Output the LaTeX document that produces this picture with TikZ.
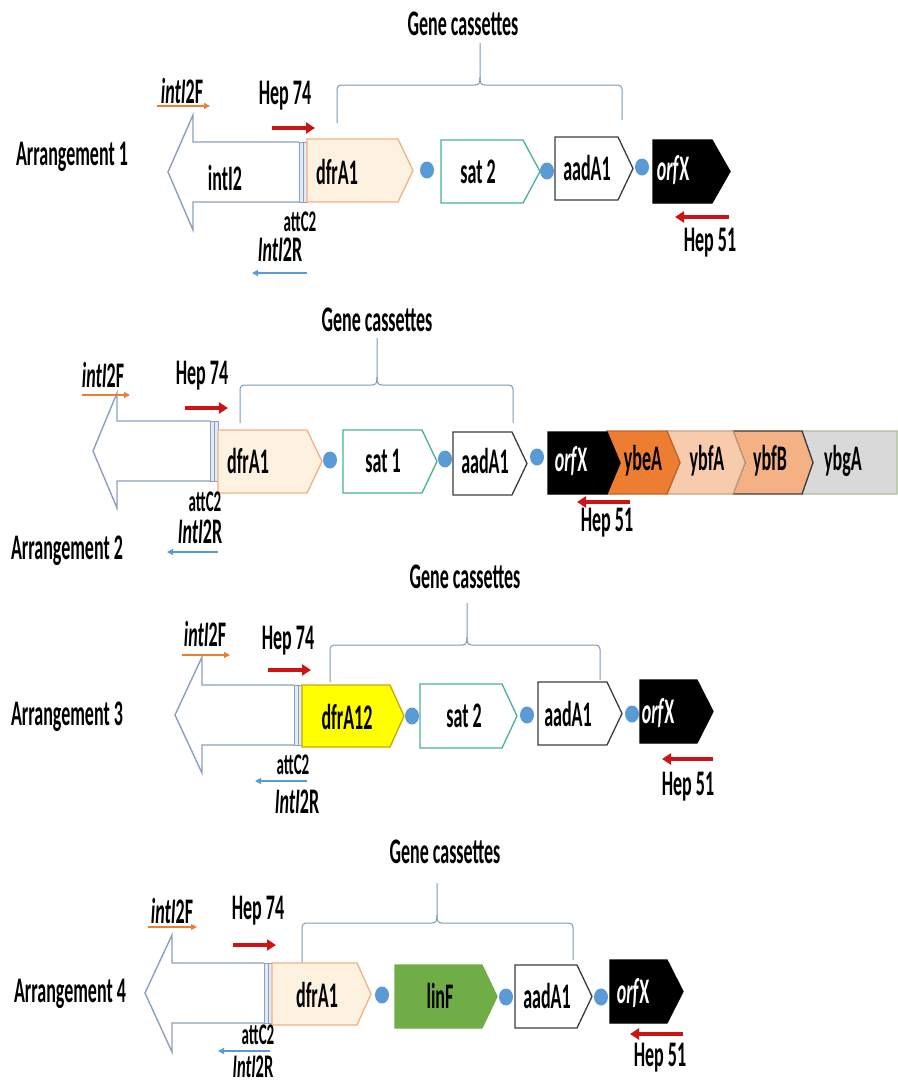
\documentclass[tikz,border=0pt]{standalone}
\usepackage{fontspec}
\setmainfont{Carlito}[FakeStretch=0.5]
\usetikzlibrary{arrows.meta,shapes.geometric}
\definecolor{dotblue}{RGB}{91,155,213}
\definecolor{hepred}{RGB}{205,20,20}
\definecolor{prorange}{RGB}{237,125,49}
\definecolor{prblue}{RGB}{91,155,213}
\definecolor{bracecol}{RGB}{120,155,185}
\definecolor{intcol}{RGB}{140,160,190}
\definecolor{attfill}{RGB}{225,235,248}
\definecolor{dfrfill}{RGB}{253,241,224}
\definecolor{dfrdraw}{RGB}{244,177,131}
\definecolor{satdraw}{RGB}{70,180,145}
\definecolor{aaddraw}{RGB}{60,60,60}
\definecolor{yelfill}{RGB}{255,255,0}
\definecolor{yeldraw}{RGB}{200,170,0}
\definecolor{linfill}{RGB}{112,173,71}
\definecolor{ybeafill}{RGB}{237,125,49}
\definecolor{ybfafill}{RGB}{248,203,173}
\definecolor{ybfbfill}{RGB}{244,177,131}
\definecolor{ybgafill}{RGB}{217,217,217}
\definecolor{ybgadraw}{RGB}{170,190,150}
\tikzset{
  lbl/.style={font=\fontsize{36}{42}\selectfont\bfseries, inner sep=0pt},
  smalllbl/.style={font=\fontsize{30}{35}\selectfont\bfseries, inner sep=0pt},
  gdot/.style={ellipse, fill=dotblue, draw=none, minimum width=14pt, minimum height=17pt, inner sep=0pt},
  dfrsty/.style={fill=dfrfill, draw=dfrdraw, line width=1.3pt},
  satsty/.style={fill=white, draw=satdraw, line width=1.3pt},
  aadsty/.style={fill=white, draw=aaddraw, line width=1.3pt},
  orfsty/.style={fill=black, draw=black, line width=1.3pt},
  yelsty/.style={fill=yelfill, draw=yeldraw, line width=1.3pt},
  linsty/.style={fill=linfill, draw=linfill, line width=1.3pt},
  ybeasty/.style={fill=ybeafill, draw=ybeafill!80!black, line width=1.3pt},
  ybfasty/.style={fill=ybfafill, draw=ybfafill!80!black, line width=1.3pt},
  ybfbsty/.style={fill=ybfbfill, draw=aaddraw, line width=1.3pt},
  ybgasty/.style={fill=ybgafill, draw=ybgadraw, line width=1.3pt},
  intline/.style={draw=intcol, line width=1.4pt, fill=white},
  gcbr/.style={draw=bracecol, line width=1pt},
  heparrow/.style={hepred, line width=4pt, -{Triangle[length=9pt,width=11pt]}},
  fwdprimer/.style={prorange, line width=1.2pt, -{Triangle[length=6pt,width=6pt]}},
  revprimer/.style={prblue, line width=1.2pt, -{Triangle[length=6pt,width=6pt]}},
}
% gene box: x1, x2, tip, ytop, ybot, style
\newcommand\gbox[6]{\draw[#6] (#1,#4) -- (#2,#4) -- (#3,{(#4+#5)/2}) -- (#2,#5) -- (#1,#5) -- cycle;}
% chevron: x1, notch, x2, tip, ytop, ybot, style
\newcommand\gchev[7]{\draw[#7] (#1,#5) -- (#3,#5) -- (#4,{(#5+#6)/2}) -- (#3,#6) -- (#1,#6) -- (#2,{(#5+#6)/2}) -- cycle;}
% integrase arrow: xt, xh, xs, yheadtop, yshafttop, yshaftbot, yheadbot, ycentre
\newcommand\intarrow[8]{\draw[intline] (#3,#5) -- (#2,#5) -- (#2,#4) -- (#1,#8) -- (#2,#7) -- (#2,#6) -- (#3,#6);}
% attC2: x, ytop, ybot
\newcommand\attc[3]{\draw[draw=intcol, fill=attfill, line width=1pt] (#1,#2) rectangle ({#1+8},#3);
  \draw[draw=intcol, line width=1pt] ({#1+4},#2) -- ({#1+4},#3);}
% brace: xl, ylbot, yh, xp, ypeak, xr, yrbot
\newcommand\gcbrace[7]{\draw[gcbr, rounded corners=4pt] (#1,#2) -- (#1,#3) -- ({#4-5},#3);
  \draw[gcbr] ({#4-5},#3) .. controls ({#4-1},#3) and (#4,{#3-2}) .. (#4,{#3-8}) -- (#4,#5);
  \draw[gcbr] (#4,{#3-8}) .. controls (#4,{#3-2}) and ({#4+1},#3) .. ({#4+5},#3);
  \draw[gcbr, rounded corners=4pt] ({#4+5},#3) -- (#6,#3) -- (#6,#7);}
\begin{document}
\begin{tikzpicture}[x=1pt,y=-1pt]
\useasboundingbox[fill=white] (0,0) rectangle (897,1084);

%%%%%%%%%%%%%%%% Arrangement 1
\node[lbl] (ar1) at (72,157) {Arrangement 1};
\node[lbl] (gc1) at (463,24) {Gene cassettes};
\gcbrace{337}{123}{85}{480}{43}{622}{120}
\intarrow{168}{193}{299}{115}{142}{202}{230}{172}
\node[lbl] (a1int) at (225,178) {intI2};
\attc{299}{142}{202}
\gbox{307}{398}{413}{139}{202}{dfrsty}
\node[lbl] (a1dfr) at (337,172) {dfrA1};
\node[gdot] (a1d1) at (427,170) {};
\gbox{441}{523}{540}{140}{203}{satsty}
\node[lbl] (a1sat) at (478,172) {sat 2};
\node[gdot] (a1d2) at (547,171) {};
\gbox{555}{618}{633}{137}{200}{aadsty}
\node[lbl] (a1aad) at (587,168) {aadA1};
\node[gdot] (a1d3) at (642,167) {};
\gbox{653}{712}{730}{140}{203}{orfsty}
\node[lbl, text=white] (a1orf) at (673,170) {\textit{orf}X};
\node[lbl] (a1f) at (182,91) {\textit{intI}2F};
\coordinate (a1fs) at (157,106); \coordinate (a1fe) at (210,106);
\draw[fwdprimer] (a1fs) -- (a1fe);
\node[lbl] (a1h74) at (285,96) {Hep 74};
\coordinate (a1hs) at (272,128); \coordinate (a1he) at (315,128);
\draw[heparrow] (a1hs) -- (a1he);
\node[smalllbl] (a1att) at (300,222) {attC2};
\node[lbl] (a1r) at (280,250) {\textit{IntI}2R};
\coordinate (a1rs) at (307,273); \coordinate (a1re) at (252,273);
\draw[revprimer] (a1rs) -- (a1re);
\coordinate (a1h51s) at (729,217); \coordinate (a1h51e) at (675,217);
\draw[heparrow] (a1h51s) -- (a1h51e);
\node[lbl] (a1h51) at (710,243) {Hep 51};

%%%%%%%%%%%%%%%% Arrangement 2
\node[lbl] (ar2) at (67,551) {Arrangement 2};
\node[lbl] (gc2) at (377,320) {Gene cassettes};
\gcbrace{240}{423}{385}{377}{338}{513}{423}
\intarrow{93}{117}{210}{393}{421}{481}{508}{451}
\attc{210}{421}{481}
\gbox{218}{307}{322}{430}{493}{dfrsty}
\node[lbl] (a2dfr) at (248,461) {dfrA1};
\node[gdot] (a2d1) at (330,460) {};
\gbox{343}{422}{437}{430}{493}{satsty}
\node[lbl] (a2sat) at (383,461) {sat 1};
\node[gdot] (a2d2) at (445,459) {};
\gbox{453}{512}{527}{432}{495}{aadsty}
\node[lbl] (a2aad) at (485,461) {aadA1};
\node[gdot] (a2d3) at (537,457) {};
\gchev{802}{813}{897}{897}{431}{494}{ybgasty}
\gchev{733}{745}{802}{813}{431}{494}{ybfbsty}
\gchev{667}{680}{733}{745}{431}{494}{ybfasty}
\gchev{607}{620}{667}{680}{431}{494}{ybeasty}
\gbox{548}{607}{620}{432}{494}{orfsty}
\node[lbl, text=white] (a2orf) at (571,461) {\textit{orf}X};
\node[lbl] (a2ybea) at (643,461) {ybeA};
\node[lbl] (a2ybfa) at (707,461) {ybfA};
\node[lbl] (a2ybfb) at (770,461) {ybfB};
\node[lbl] (a2ybga) at (843,461) {ybgA};
\node[lbl] (a2f) at (103,375) {\textit{intI}2F};
\coordinate (a2fs) at (82,395); \coordinate (a2fe) at (130,395);
\draw[fwdprimer] (a2fs) -- (a2fe);
\node[lbl] (a2h74) at (202,376) {Hep 74};
\coordinate (a2hs) at (185,408); \coordinate (a2he) at (228,408);
\draw[heparrow] (a2hs) -- (a2he);
\node[smalllbl] (a2att) at (205,502) {attC2};
\node[lbl] (a2r) at (200,532) {\textit{IntI}2R};
\coordinate (a2rs) at (218,552); \coordinate (a2re) at (167,552);
\draw[revprimer] (a2rs) -- (a2re);
\coordinate (a2h51s) at (630,502); \coordinate (a2h51e) at (577,502);
\draw[heparrow] (a2h51s) -- (a2h51e);
\node[lbl] (a2h51) at (607,523) {Hep 51};

%%%%%%%%%%%%%%%% Arrangement 3
\node[lbl] (ar3) at (67,717) {Arrangement 3};
\node[lbl] (gc3) at (465,577) {Gene cassettes};
\gcbrace{330}{682}{645}{467}{603}{600}{680}
\intarrow{175}{202}{294}{657}{685}{745}{773}{715}
\attc{294}{685}{745}
\gbox{302}{390}{404}{685}{747}{yelsty}
\node[lbl] (a3dfr) at (347,717) {dfrA12};
\node[gdot] (a3d1) at (412,716) {};
\gbox{420}{502}{517}{684}{748}{satsty}
\node[lbl] (a3sat) at (464,716) {sat 2};
\node[gdot] (a3d2) at (527,715) {};
\gbox{538}{607}{622}{682}{745}{aadsty}
\node[lbl] (a3aad) at (568,714) {aadA1};
\node[gdot] (a3d3) at (632,714) {};
\gbox{640}{697}{713}{680}{743}{orfsty}
\node[lbl, text=white] (a3orf) at (658,713) {\textit{orf}X};
\node[lbl] (a3f) at (205,634) {\textit{intI}2F};
\coordinate (a3fs) at (182,655); \coordinate (a3fe) at (230,655);
\draw[fwdprimer] (a3fs) -- (a3fe);
\node[lbl] (a3h74) at (288,641) {Hep 74};
\coordinate (a3hs) at (268,670); \coordinate (a3he) at (311,670);
\draw[heparrow] (a3hs) -- (a3he);
\node[smalllbl] (a3att) at (293,765) {attC2};
\node[lbl] (a3r) at (297,802) {\textit{IntI}2R};
\coordinate (a3rs) at (307,781); \coordinate (a3re) at (255,781);
\draw[revprimer] (a3rs) -- (a3re);
\coordinate (a3h51s) at (713,759); \coordinate (a3h51e) at (662,759);
\draw[heparrow] (a3h51s) -- (a3h51e);
\node[lbl] (a3h51) at (688,787) {Hep 51};

%%%%%%%%%%%%%%%% Arrangement 4
\node[lbl] (ar4) at (70,994) {Arrangement 4};
\node[lbl] (gc4) at (445,852) {Gene cassettes};
\gcbrace{302}{962}{923}{437}{883}{573}{960}
\intarrow{145}{172}{264}{935}{963}{1023}{1052}{993}
\attc{264}{963}{1023}
\gbox{272}{357}{371}{963}{1025}{dfrsty}
\node[lbl] (a4dfr) at (317,995) {dfrA1};
\node[gdot] (a4d1) at (382,995) {};
\gbox{395}{482}{497}{965}{1028}{linsty}
\node[lbl] (a4lin) at (440,996) {linF};
\node[gdot] (a4d2) at (506,997) {};
\gbox{515}{577}{592}{965}{1028}{aadsty}
\node[lbl] (a4aad) at (547,996) {aadA1};
\node[gdot] (a4d3) at (601,997) {};
\gbox{610}{667}{683}{960}{1023}{orfsty}
\node[lbl, text=white] (a4orf) at (633,993) {\textit{orf}X};
\node[lbl] (a4f) at (172,911) {\textit{intI}2F};
\coordinate (a4fs) at (148,927); \coordinate (a4fe) at (197,927);
\draw[fwdprimer] (a4fs) -- (a4fe);
\node[lbl] (a4h74) at (258,911) {Hep 74};
\coordinate (a4hs) at (233,945); \coordinate (a4he) at (276,945);
\draw[heparrow] (a4hs) -- (a4he);
\node[smalllbl] (a4att) at (258,1035) {attC2};
\node[lbl, font=\fontsize{33}{38}\selectfont\bfseries] (a4r) at (253,1067) {\textit{IntI}2R};
\coordinate (a4rs) at (270,1051); \coordinate (a4re) at (218,1051);
\draw[revprimer] (a4rs) -- (a4re);
\coordinate (a4h51s) at (683,1034); \coordinate (a4h51e) at (630,1034);
\draw[heparrow] (a4h51s) -- (a4h51e);
\node[lbl] (a4h51) at (660,1058) {Hep 51};
\end{tikzpicture}
\end{document}
